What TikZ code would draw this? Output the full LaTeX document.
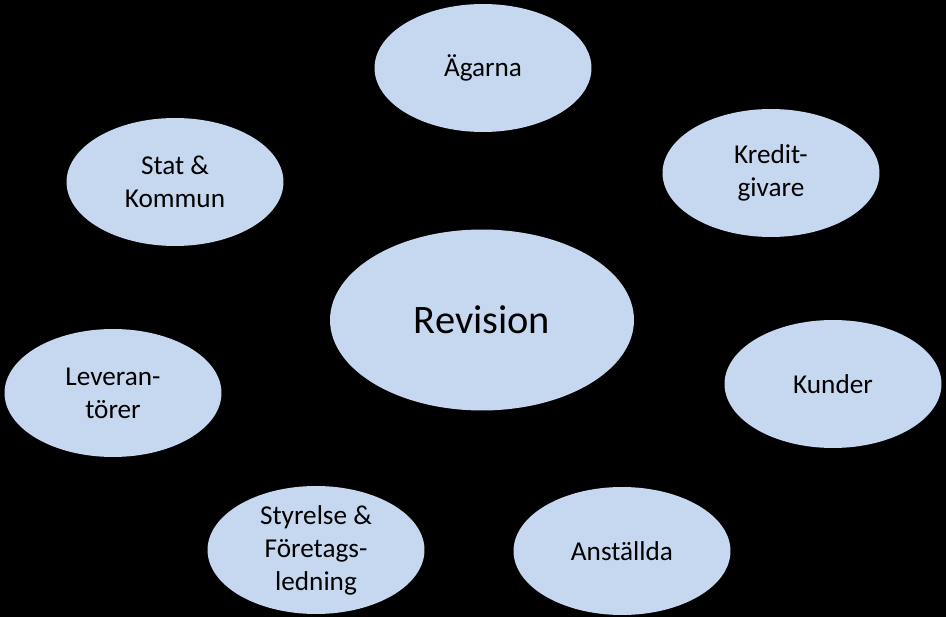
\documentclass[tikz,border=0pt]{standalone}
\usepackage{fontspec}
\setmainfont{Carlito}
\usetikzlibrary{shapes.geometric}
\definecolor{bubble}{RGB}{198,216,240}

\begin{document}
\begin{tikzpicture}[x=0.02cm,y=-0.02cm,
  part/.style={ellipse,fill=bubble,inner sep=0pt,minimum width=4.34cm,
    minimum height=2.56cm,align=center,font=\fontsize{15.5}{18.8}\selectfont}]
\fill [black](0,0) rectangle (946,617);
\node [part] (agarna) at (483,68) {Ägarna};
\node [part] (stat) at (175,182) {Stat \&\\Kommun};
\node [part] (kredit) at (771,173) {Kredit-\\givare};
\node [part,minimum width=6.08cm,minimum height=3.62cm,
  font=\fontsize{23}{27}\selectfont] (revision) at (482,320) {Revision};
\node [part] (lev) at (113,393) {Leveran-\\törer};
\node [part] (kunder) at (833,384) {Kunder};
\node [part] (styrelse) at (316,550) {Styrelse \&\\Företags-\\ledning};
\node [part] (anstallda) at (622,551) {Anställda};
\end{tikzpicture}
\end{document}
